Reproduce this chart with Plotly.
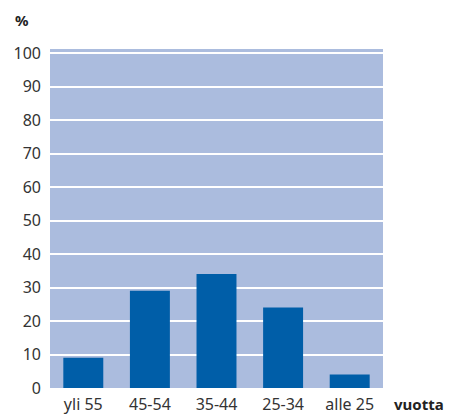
import plotly.graph_objects as go

categories = ["yli 55", "45-54", "35-44", "25-34", "alle 25"]
values = [9, 29, 34, 24, 4]
y_ticks = [0, 10, 20, 30, 40, 50, 60, 70, 80, 90, 100]

fig = go.Figure(go.Bar(x=categories, y=values, marker=dict(color="#005ea8", line=dict(width=0))))

fig.update_layout(
    width=454, height=414,
    margin=dict(l=50, r=71, t=49, b=26, autoexpand=False),
    paper_bgcolor="white",
    plot_bgcolor="#abbcde",
    bargap=0.4,
    showlegend=False,
    font=dict(family="Noto Sans", size=16, color="#333333"),
    xaxis=dict(showgrid=False, ticks="", tickfont=dict(size=16), zeroline=False,
               automargin=False, ticklabelstandoff=5),
    yaxis=dict(range=[0, 101.2], tickvals=y_ticks, showgrid=True, gridcolor="white",
               gridwidth=2, zeroline=False, ticks="", ticklabelstandoff=8,
               tickfont=dict(size=16), automargin=False),
    annotations=[
        dict(text="<b>%</b>", xref="paper", yref="paper", x=-0.084, y=1.0855,
             xanchor="center", yanchor="middle", showarrow=False, font=dict(size=15, color="#222")),
        dict(text="<b>vuotta</b>", xref="paper", yref="paper", x=1.028, y=0,
             xanchor="left", yanchor="top", yshift=-4, showarrow=False, font=dict(size=15, color="#222")),
    ],
)

fig.write_html("out.html", config={"displayModeBar": False},
               post_script="document.body.style.margin='0';")
